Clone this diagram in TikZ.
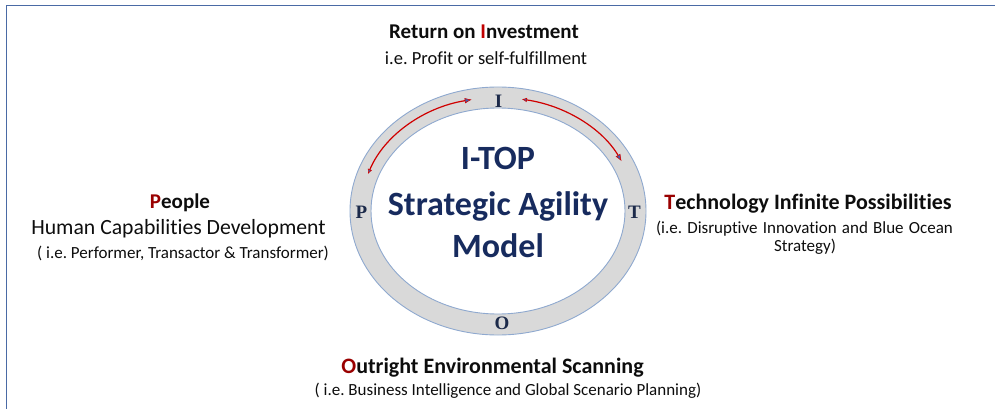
\documentclass[tikz,border=0pt]{standalone}
\usepackage{fontspec}
\setmainfont{Carlito}[Ligatures=NoCommon]
\newfontfamily\lettfont{Liberation Serif}
\usetikzlibrary{arrows.meta}
\definecolor{navy}{HTML}{172B5E}
\definecolor{letnavy}{HTML}{1C2A4A}
\definecolor{redI}{HTML}{C00000}
\definecolor{darkred}{HTML}{990000}
\definecolor{ringfill}{HTML}{D9D9D9}
\definecolor{ringline}{HTML}{8FA9CF}
\definecolor{framecol}{HTML}{4A6AA5}
\definecolor{arrred}{HTML}{D00000}
\definecolor{arrblue}{HTML}{3F5FB0}
\definecolor{txt}{HTML}{0D0D0D}
\frenchspacing
\begin{document}
\begin{tikzpicture}[x=1pt,y=-1pt,
  every node/.style={inner sep=0pt,outer sep=0pt,text=txt},
  head/.style={anchor=base,font=\fontsize{22}{22}\selectfont\bfseries},
  body/.style={anchor=base,font=\fontsize{21.7}{21.7}\selectfont},
  sub/.style={anchor=base,font=\fontsize{17}{17}\selectfont},
  core/.style={anchor=base,text=navy,font=\fontsize{34}{34}\selectfont\bfseries},
  letter/.style={anchor=base,text=letnavy,font=\lettfont\fontsize{19}{19}\selectfont\bfseries},
  framestyle/.style={draw=framecol,line width=1.4pt},
  cyclearrow/.style={draw=arrred,line width=1.2pt,
    {Latex[length=5pt,width=4.5pt,fill=arrblue,color=arrred,line width=0.6pt]}-{Latex[length=7pt,width=5.5pt,fill=arrblue,color=arrred,line width=0.6pt]}}
]
\useasboundingbox (0,0) rectangle (995,409);
% frame
\coordinate (fr1) at (995,5.5);
\coordinate (fr2) at (6.5,5.5);
\coordinate (fr3) at (6.5,409);
\draw[framestyle] (fr1) -- (fr2) -- (fr3);
% ring
\coordinate (c) at (498,211);
\fill[ringfill,even odd rule] (c) ellipse[x radius=148,y radius=124] (c) ellipse[x radius=127,y radius=103];
\draw[ringline,line width=0.9pt] (c) ellipse[x radius=148,y radius=124];
\draw[ringline,line width=0.9pt] (c) ellipse[x radius=127,y radius=103];
% cycle arrows
\draw[cyclearrow] (c) ++(-161:137.5 and 113.5) arc[start angle=-161,end angle=-101,x radius=137.5,y radius=113.5];
\draw[cyclearrow] (c) ++(-80:137.5 and 113.5) arc[start angle=-80,end angle=-26,x radius=137.5,y radius=113.5];
% ring letters
\node[letter] (lI) at (498.5,108) {I};
\node[letter] (lP) at (361.5,218.5) {P};
\node[letter] (lT) at (634.5,218.5) {T};
\node[letter] (lO) at (502,329.5) {O};
% core text
\node[core] (c1) at (498,169) {I-TOP};
\node[core] (c2) at (498,215) {Strategic Agility};
\node[core] (c3) at (498,257) {Model};
% top
\node[head,font=\fontsize{21}{21}\selectfont\bfseries] (roiA) at (484,39) {Return on \textcolor{redI}{I}nvestment};
\node[sub,font=\fontsize{18.5}{18.5}\selectfont] (roiB) at (486,65) {i.e. Profit or self-fulfillment};
% left
\node[head,font=\fontsize{21}{21}\selectfont\bfseries] (pplA) at (180,208) {\textcolor{darkred}{P}eople};
\node[body] (pplB) at (178.5,234) {Human Capabilities Development};
\node[sub] (pplC) at (183,258) {( i.e. Performer, Transactor \& Transformer)};
% right
\node[head] (tecA) at (808,209) {\textcolor{darkred}{T}echnology Infinite Possibilities};
\node[sub] (tecB) at (804.5,233) {\makebox[297pt][s]{(i.e. Disruptive Innovation and Blue Ocean}};
\node[sub] (tecC) at (805,251) {Strategy)};
% bottom
\node[head] (outA) at (492.5,373) {\textcolor{darkred}{O}utright Environmental Scanning};
\node[sub] (outB) at (508,395) {( i.e. Business Intelligence and Global Scenario Planning)};
\end{tikzpicture}
\end{document}
